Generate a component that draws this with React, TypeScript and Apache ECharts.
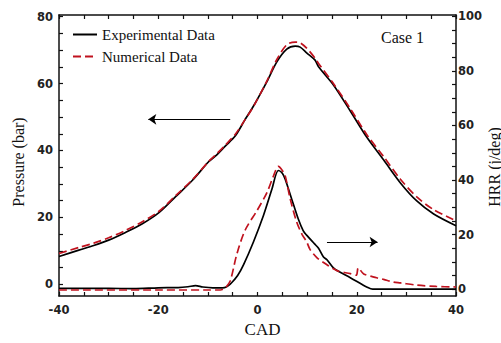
import React, { useEffect, useRef } from "react";
import * as echarts from "echarts";

// Crank angle (deg) and in-cylinder pressure (bar)
const cadPressureExp = [-40, -36, -33, -30, -26.6, -23.2, -19.8, -16.5, -13.1, -9.8, -8.5, -6.5, -4.5, -2.6, -0.8, 1.9, 3.9, 5.9, 7.6, 8.6, 9.9, 11.6, 12.3, 15.3, 18.7, 22, 25.4, 28.8, 32.1, 35.5, 40];
const pressureExp = [8.3, 10.2, 11.6, 13.2, 15.5, 18.1, 21.5, 26.2, 31.1, 36.7, 38.3, 41.3, 44.3, 49.0, 53.3, 60.6, 66.5, 70.3, 71.2, 70.9, 69.2, 67.0, 65.0, 59.6, 51.8, 44.0, 37.2, 30.3, 24.9, 21.0, 17.5];

const cadPressureNum = [-40, -36, -33, -30, -26.6, -23.2, -19.8, -16.5, -13.1, -9.8, -8.5, -6.5, -4.5, -2.6, -0.8, 1.9, 3.9, 5.9, 7.6, 8.6, 9.9, 11.6, 12.3, 15.3, 18.7, 22, 25.4, 28.8, 32.1, 35.5, 40];
const pressureNum = [9.2, 11.0, 12.3, 13.9, 16.1, 18.7, 21.9, 26.5, 31.3, 36.8, 38.6, 41.6, 44.8, 49.0, 53.2, 60.8, 67.2, 71.6, 72.4, 72.2, 70.6, 67.6, 66.0, 60.0, 52.5, 44.8, 38.2, 31.4, 26.1, 22.3, 19.0];

// Heat release rate (J/deg)
const cadHrrExp = [-40, -30, -25, -20, -16, -14, -12.5, -11, -9, -7, -6.3, -5.5, -4, -2.8, -0.8, 1.2, 2.9, 4.2, 5, 5.6, 6.9, 8.2, 9.2, 9.9, 11.5, 12.3, 13.3, 14, 15.3, 16.3, 18.7, 21, 22, 23.2, 30, 40];
const hrrExp = [0.3, 0.3, 0.2, 0.5, 0.6, 0.9, 1.3, 0.8, 0.5, 0.5, 0.8, 1.8, 5, 9, 17.4, 27, 36.6, 43.5, 42.5, 40.2, 33, 25.8, 21.5, 19.8, 16.6, 15.0, 11.8, 10.8, 7.8, 6.6, 4.2, 1.8, 0.8, 0, 0, 0];

const cadHrrNum = [-40, -20, -10, -7.5, -6.5, -5.5, -4.2, -2.5, -0.1, 1.9, 3.2, 4.2, 5, 5.6, 6.6, 7.9, 9, 9.9, 10.6, 12, 13.3, 16, 18.7, 19.9, 20.3, 21.4, 24, 25.4, 27.4, 28.8, 32.1, 36, 40];
const hrrNum = [-0.3, -0.3, -0.3, -0.3, 0.5, 3, 12.6, 21.6, 28.8, 35.4, 41.4, 45, 43.5, 41.4, 33, 24.6, 20, 17.4, 14.5, 11.5, 9.8, 6.8, 5.7, 5.1, 7.8, 5.6, 4.2, 3.6, 2.6, 2.3, 1.5, 1.0, 0.8];

const xTicks = [-40, -35, -30, -25, -20, -15, -10, -5, 0, 5, 10, 15, 20, 25, 30, 35, 40];
const xLabels = [-40, -20, 0, 20, 40];
const pTicks = [0, 5, 10, 15, 20, 25, 30, 35, 40, 45, 50, 55, 60, 65, 70, 75, 80];
const pLabels = [0, 20, 40, 60, 80];
const hTicks = [0, 5, 10, 15, 20, 25, 30, 35, 40, 45, 50, 55, 60, 65, 70, 75, 80, 85, 90, 95, 100];
const hLabels = [0, 20, 40, 60, 80, 100];

const zip = (xs: number[], ys: number[]) => xs.map((x, i) => [x, ys[i]]);

const RED = "#c0121e";
const SERIF = "'Liberation Serif', 'Times New Roman', serif";
const SANS = "'DejaVu Sans', sans-serif";

export default function App() {
  const ref = useRef<HTMLDivElement>(null);
  useEffect(() => {
    if (!ref.current) return;
    const chart = echarts.init(ref.current, undefined, { renderer: "svg" });
    const axisLine = { show: true, onZero: false, lineStyle: { color: "#111", width: 1.5 } };
    const tick = (vals: number[]) => ({ show: true, inside: true, length: 4, customValues: vals, lineStyle: { color: "#111", width: 1.2 } });
    const tickLabel = { fontFamily: SANS, fontSize: 11.5, fontWeight: "bold", color: "#222" };
    const arrowLine = {
      silent: true,
      symbol: ["none", "arrow"],
      symbolSize: 8,
      label: { show: false },
      lineStyle: { color: "#000", width: 1, type: "solid" },
      emphasis: { disabled: true },
      animation: false,
    };
    chart.setOption({
      animation: false,
      grid: { left: 59, right: 45, top: 15, bottom: 41 },
      legend: {
        orient: "vertical",
        left: 67,
        top: 22,
        itemWidth: 24,
        itemHeight: 14,
        itemGap: 7,
        itemStyle: { opacity: 0 },
        data: ["Experimental Data", "Numerical Data"],
        textStyle: { fontFamily: SERIF, fontSize: 15, color: "#111" },
      },
      graphic: [
        { type: "text", x: 381, y: 37, style: { text: "Case 1", font: `16px ${SERIF}`, fill: "#111", textVerticalAlign: "middle" } },
        { type: "text", x: 18.5, y: 162, rotation: Math.PI / 2, style: { text: "Pressure (bar)", font: `16px ${SERIF}`, fill: "#111", textAlign: "center", textVerticalAlign: "middle" } },
        { type: "text", x: 494, y: 167, rotation: Math.PI / 2, style: { text: "HRR (j/deg)", font: `16px ${SERIF}`, fill: "#111", textAlign: "center", textVerticalAlign: "middle" } },
      ],
      xAxis: [
        {
          type: "value", min: -40, max: 40, position: "bottom",
          name: "CAD", nameLocation: "middle", nameGap: 25,
          nameTextStyle: { fontFamily: SERIF, fontSize: 17, color: "#111", padding: [0, 0, 0, 10] },
          axisLine, axisTick: tick(xTicks),
          axisLabel: { customValues: xLabels, margin: 8, ...tickLabel },
          splitLine: { show: false },
        },
        {
          type: "value", min: -40, max: 40, position: "top",
          axisLine, axisTick: tick(xTicks),
          axisLabel: { show: false },
          splitLine: { show: false },
        },
      ],
      yAxis: [
        {
          type: "value", min: -3.5, max: 80.5, position: "left",
          axisLine, axisTick: tick(pTicks),
          axisLabel: { customValues: pLabels, margin: 6, ...tickLabel },
          splitLine: { show: false },
        },
        {
          type: "value", min: -2.5, max: 100.5, position: "right",
          axisLine, axisTick: tick(hTicks),
          axisLabel: { customValues: hLabels, margin: 2, ...tickLabel },
          splitLine: { show: false },
        },
      ],
      series: [
        {
          name: "Experimental Data", type: "line", xAxisIndex: 0, yAxisIndex: 0,
          data: zip(cadPressureExp, pressureExp), smooth: 0.3, symbol: "none",
          lineStyle: { color: "#000", width: 1.7 }, itemStyle: { color: "#000" },
          markLine: { ...arrowLine, data: [[{ coord: [-5.5, 49.3] }, { coord: [-22, 49.3] }]] },
        },
        {
          name: "Experimental Data", type: "line", xAxisIndex: 0, yAxisIndex: 1,
          data: zip(cadHrrExp, hrrExp), smooth: 0.3, symbol: "none",
          lineStyle: { color: "#000", width: 1.7 }, itemStyle: { color: "#000" },
          markLine: { ...arrowLine, data: [[{ coord: [14, 17.3] }, { coord: [24.2, 17.3] }]] },
        },
        {
          name: "Numerical Data", type: "line", xAxisIndex: 0, yAxisIndex: 0,
          data: zip(cadPressureNum, pressureNum), smooth: 0.3, symbol: "none",
          lineStyle: { color: RED, width: 1.7, type: [8, 4] }, itemStyle: { color: RED },
        },
        {
          name: "Numerical Data", type: "line", xAxisIndex: 0, yAxisIndex: 1,
          data: zip(cadHrrNum, hrrNum), smooth: 0.3, symbol: "none",
          lineStyle: { color: RED, width: 1.7, type: [8, 4] }, itemStyle: { color: RED },
        },
      ],
    });
    return () => chart.dispose();
  }, []);
  return <div ref={ref} style={{ width: 501, height: 343, position: "absolute", left: 0, top: 0 }} />;
}
